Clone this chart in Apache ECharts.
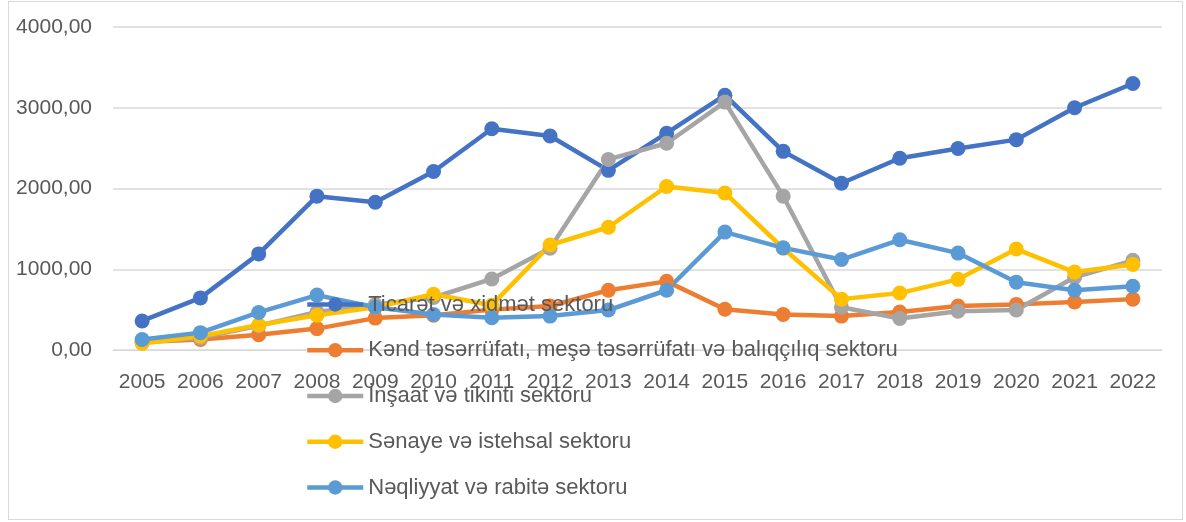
<!DOCTYPE html>
<html>
<head>
<meta charset="utf-8">
<script src="https://cdn.jsdelivr.net/npm/echarts@6/dist/echarts.min.js"></script>
<style>
  html, body { margin: 0; padding: 0; background: #fff; }
  #frame { position: absolute; left: 8px; top: 1px; width: 1173px; height: 517px; border: 1px solid #d9d9d9; }
  #chart { position: absolute; left: 0; top: 0; width: 1186px; height: 522px; }
</style>
</head>
<body>
<div id="frame"></div>
<div id="chart"></div>
<script>
var years = ['2005', '2006', '2007', '2008', '2009', '2010', '2011', '2012', '2013',
    '2014', '2015', '2016', '2017', '2018', '2019', '2020', '2021', '2022'];

var ticaret = [360, 645, 1190, 1905, 1830, 2210, 2740, 2650, 2225, 2685, 3155, 2460, 2065, 2375, 2495, 2605, 3000, 3300];
var kend = [100, 130, 190, 265, 395, 430, 500, 545, 740, 850, 505, 440, 420, 470, 545, 565, 595, 630];
var insaat = [100, 150, 300, 470, 560, 650, 880, 1260, 2360, 2560, 3070, 1905, 530, 390, 480, 495, 900, 1110];
var senaye = [80, 170, 310, 430, 530, 690, 555, 1300, 1520, 2025, 1945, 1260, 630, 705, 875, 1250, 965, 1060];
var neqliyyat = [130, 215, 465, 680, 530, 440, 400, 420, 495, 740, 1460, 1265, 1120, 1365, 1200, 840, 740, 790];

var seriesNames = [
    'Ticarət və xidmət sektoru',
    'Kənd təsərrüfatı, meşə təsərrüfatı və balıqçılıq sektoru',
    'İnşaat və tikinti sektoru',
    'Sənaye və istehsal sektoru',
    'Nəqliyyat və rabitə sektoru'
];
var seriesData = [ticaret, kend, insaat, senaye, neqliyyat];
var colors = ['#4472C4', '#ED7D31', '#A5A5A5', '#FFC000', '#5B9BD5'];

var chart = echarts.init(document.getElementById('chart'));

var series = seriesNames.map(function (name, i) {
    return {
        name: name,
        type: 'line',
        data: seriesData[i],
        symbol: 'circle',
        symbolSize: 15,
        lineStyle: { width: 4.5 },
        itemStyle: { color: colors[i] },
        emphasis: { disabled: true }
    };
});

var option = {
    animation: false,
    color: colors,
    textStyle: { fontFamily: 'Liberation Sans', color: '#595959' },
    grid: {
        left: 113,
        right: 24,
        top: 27,
        bottom: 172
    },
    legend: {
        orient: 'vertical',
        left: 305,
        top: 293.5,
        padding: 0,
        itemWidth: 56,
        itemHeight: 18,
        itemGap: 23.75,
        itemTextGap: 3,
        lineStyle: { width: 4.5 },
        textStyle: { fontSize: 22, color: '#595959', lineHeight: 22 },
        data: seriesNames
    },
    xAxis: {
        type: 'category',
        data: years,
        boundaryGap: true,
        axisLine: { lineStyle: { color: '#d9d9d9', width: 1 } },
        axisTick: { show: false },
        axisLabel: { fontSize: 21, color: '#595959', margin: 22, interval: 0 }
    },
    yAxis: {
        type: 'value',
        min: 0,
        max: 4000,
        interval: 1000,
        axisLine: { show: false },
        axisTick: { show: false },
        splitLine: { lineStyle: { color: '#d9d9d9', width: 1.5 } },
        axisLabel: {
            fontSize: 21,
            color: '#595959',
            margin: 21,
            formatter: function (v) { return v.toFixed(2).replace('.', ','); }
        }
    },
    series: series
};

chart.setOption(option);
</script>
</body>
</html>
